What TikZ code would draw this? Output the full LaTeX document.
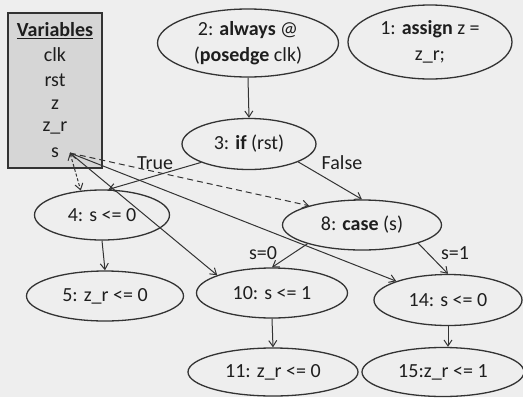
\documentclass[tikz,border=0pt]{standalone}
\usepackage{fontspec}
\setmainfont{Carlito}
\usetikzlibrary{shapes.geometric,arrows.meta}
\definecolor{bgc}{HTML}{EEEEEE}
\definecolor{boxc}{HTML}{D6D6D6}
\definecolor{ink}{HTML}{1E1E1E}
\definecolor{linec}{HTML}{333333}
\begin{document}
\begin{tikzpicture}[x=1pt,y=-1pt,
  every node/.style={text=ink,font=\fontsize{20}{26}\selectfont},
  stmt/.style={ellipse,draw=linec,line width=1.3pt,inner sep=0pt,align=center},
  varlbl/.style={inner sep=0pt,anchor=center},
  flow/.style={draw=linec,line width=1pt,-{Straight Barb[length=6pt,width=8pt]}},
  use/.style={flow,dash pattern=on 6pt off 4pt},
  lbl/.style={inner sep=0pt,anchor=center}]
\useasboundingbox[fill=bgc] (0,0) rectangle (523,397);
% variables box
\node[draw=linec,fill=boxc,line width=1.2pt,minimum width=94pt,minimum height=155pt,inner sep=0pt] (vbox) at (55,90.5) {};
\node[varlbl] (vtitle) at (55,31) {\underline{\textbf{Variables}}};
\node[varlbl] (vclk) at (55,55) {clk};
\node[varlbl] (vrst) at (55,80) {rst};
\node[varlbl] (vz) at (55,105) {z};
\node[varlbl] (vzr) at (55,128) {z\_r};
\node[varlbl] (vs) at (55,153) {s};
\coordinate (sp) at (70,153);
% statements
\node[stmt,minimum width=181pt,minimum height=68pt] (n2) at (248,43) {2: \textbf{always} @\\(\textbf{posedge} clk)};
\node[stmt,minimum width=164pt,minimum height=74pt] (n1) at (430,42) {1: \textbf{assign} z =\\z\_r;};
\node[stmt,minimum width=134pt,minimum height=51pt] (n3) at (249,144) {3: \textbf{if} (rst)};
\node[stmt,minimum width=135pt,minimum height=50pt] (n4) at (102,215) {4: s <= 0};
\node[stmt,minimum width=159pt,minimum height=50pt] (n8) at (362,225) {8: \textbf{case} (s)};
\node[stmt,minimum width=157pt,minimum height=50pt] (n5) at (105,296) {5: z\_r <= 0};
\node[stmt,minimum width=151pt,minimum height=50pt] (n10) at (272,293) {10: s <= 1};
\node[stmt,minimum width=148pt,minimum height=51pt] (n14) at (448,300) {14: s <= 0};
\node[stmt,minimum width=170pt,minimum height=48pt] (n11) at (273,372) {11: z\_r <= 0};
\node[stmt,minimum width=162pt,minimum height=49pt] (n15) at (443,372) {15:z\_r <= 1};
% control flow
\draw[flow] (n2.south) -- (n3.north);
\draw[flow] (n3.201) -- (n4.76);
\draw[flow] (n3.-20) -- (n8.north);
\draw[flow] (n4.south) -- (n5.north);
\draw[flow] (n8.199) -- (n10.north);
\draw[flow] (n8.-18) -- (n14.north);
\draw[flow] (n10.south) -- (n11.north);
\draw[flow] (n14.south) -- (n14.south |- n15.north);
% labels
\node[lbl] (ltrue) at (155,163) {True};
\node[lbl] (lfalse) at (342,163) {False};
\node[lbl] (ls0) at (263,253) {s=0};
\node[lbl] (ls1) at (455,253) {s=1};
% data flow
\draw[use,dash pattern=on 3pt off 2pt,{Straight Barb[length=6pt,width=8pt]}-{Straight Barb[length=6pt,width=8pt]}] (sp) -- (n4.131);
\draw[flow] (sp) -- (n10.162);
\draw[flow] (sp) -- (n14.160);
\draw[use] (sp) -- (n8.160);
\end{tikzpicture}
\end{document}
